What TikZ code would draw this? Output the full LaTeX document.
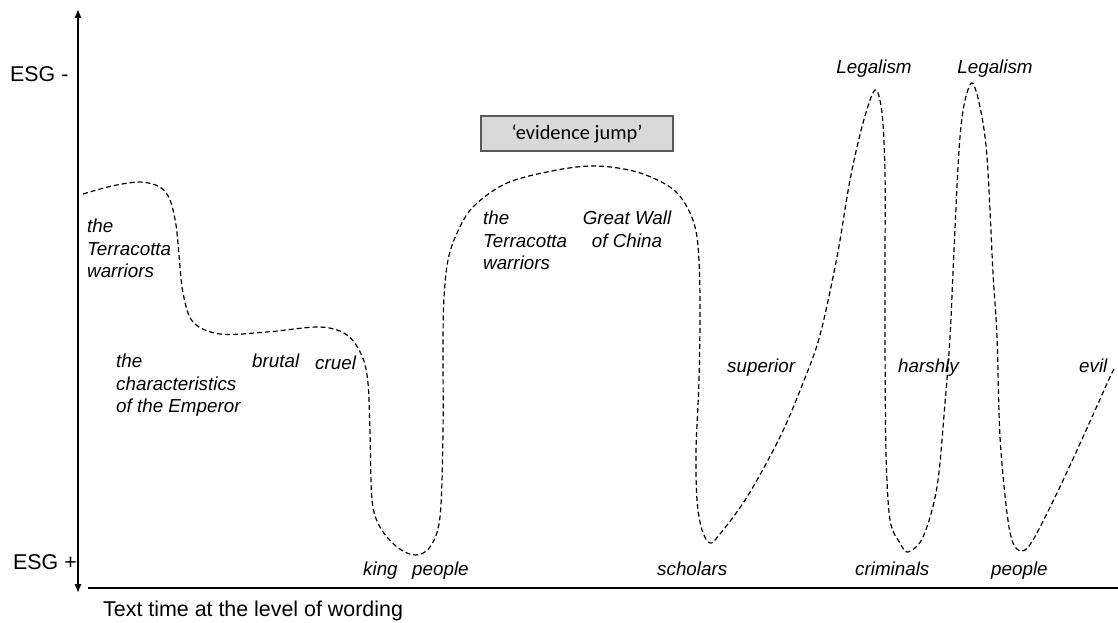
\documentclass[tikz,border=0pt]{standalone}
\usepackage{fontspec}
\setmainfont{Liberation Sans}
\newfontfamily\boxfont{Carlito}
\usetikzlibrary{arrows.meta}
\tikzset{
  lbl/.style={inner sep=0pt, font=\itshape\fontsize{18.8}{22.5}\selectfont},
  axlbl/.style={inner sep=0pt, font=\fontsize{21.4}{25}\selectfont},
  axis/.style={line width=2.5pt, -{Latex[length=9pt,width=7.5pt]}},
  trace/.style={dash pattern=on 5pt off 3pt, line width=1.2pt},
  jumpbox/.style={draw=black!65, fill=black!15, line width=1.2pt, minimum width=192pt, minimum height=35pt, inner sep=0pt, font=\boxfont\fontsize{20.4}{24}\selectfont}
}
\begin{document}
\begin{tikzpicture}[x=1pt,y=-1pt]
\useasboundingbox (0,0) rectangle (1118,623);
% axes
\coordinate (ymid) at (78,300);
\coordinate (ytop) at (78,9);
\coordinate (ybot) at (78,593);
\coordinate (xl) at (88,588);
\coordinate (xr) at (1118,588);
\draw[axis] (ymid) -- (ytop);
\draw[axis] (ymid) -- (ybot);
\draw[line width=2.5pt] (xl) -- (xr);
\node[axlbl, anchor=base west] (esgm) at (10,82) {ESG -};
\node[axlbl, anchor=base west] (esgp) at (13,569) {ESG +};
\node[axlbl, anchor=base west] (ttime) at (103,616) {Text time at the level of wording};
% box
\node[jumpbox] (jump) at (577,133.5) {‘evidence jump’};
% curve
\draw[trace] plot[smooth, tension=0.55] coordinates {
(83,194) (112,186) (140,182) (160,187) (170,200) (176,225) (179,255) (183,293) (193,322) (220,334) (267,332) (320,327) (347,335) (362,356) (368,383) (370,433) (372,500) (380,527) (397,547) (415,555) (430,547) (440,517) (443,433) (443,340) (444,297) (448,260) (457,233) (473,207) (507,183) (557,170) (597,166) (637,172) (670,187) (687,207) (697,237) (700,297) (699,380) (696,450) (697,500) (702,530) (710,543) (720,534) (747,497) (780,437) (803,383) (820,335) (837,257) (850,180) (863,123) (875,90) (882,113) (885,173) (885,260) (885,340) (886,453) (890,520) (900,543) (908,552) (923,537) (937,487) (945,403) (950,337) (954,250) (959,150) (964,105) (972,83) (980,107) (987,157) (993,273) (997,337) (1000,437) (1007,513) (1013,543) (1022,551) (1033,540) (1057,493) (1083,437) (1110,377) (1115,368)
};
% labels
\node[lbl, anchor=north west, align=left] (terra1) at (87,219) {the\\Terracotta\\warriors};
\node[lbl, anchor=north west, align=left] (charac) at (116,354) {the\\characteristics\\of the Emperor};
\node[lbl, anchor=base west] (brutal) at (252,367) {brutal};
\node[lbl, anchor=base west] (cruel) at (315,369) {cruel};
\node[lbl, anchor=base west] (king) at (363,575) {king};
\node[lbl, anchor=base west] (people1) at (412,575) {people};
\node[lbl, anchor=north west, align=left] (terra2) at (483,211) {the\\Terracotta\\warriors};
\node[lbl, anchor=north, align=center] (wall) at (627,211) {Great Wall\\of China};
\node[lbl, anchor=base] (legal1) at (874,74) {Legalism};
\node[lbl, anchor=base] (legal2) at (995,74) {Legalism};
\node[lbl, anchor=base west] (superior) at (727,372) {superior};
\node[lbl, anchor=base west] (harshly) at (898,372) {harshly};
\node[lbl, anchor=base west] (evil) at (1079,372) {evil};
\node[lbl, anchor=base west] (scholars) at (657,575) {scholars};
\node[lbl, anchor=base west] (criminals) at (855,575) {criminals};
\node[lbl, anchor=base west] (people2) at (991,575) {people};
\end{tikzpicture}
\end{document}
